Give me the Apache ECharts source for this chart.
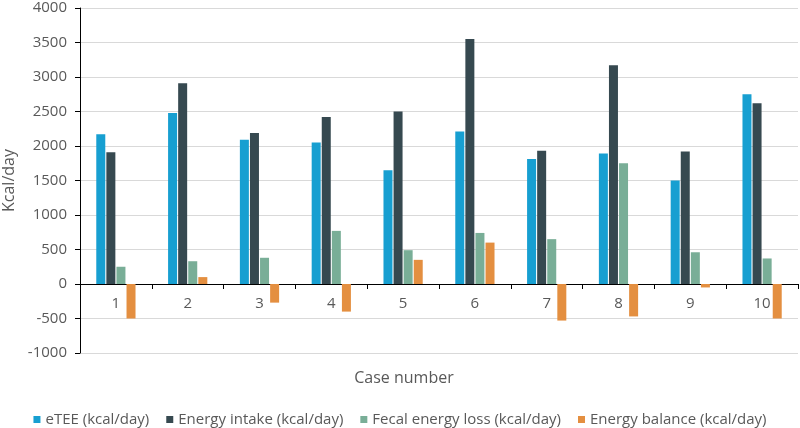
<!DOCTYPE html>
<html>
<head>
    <meta charset="utf-8">
    <title>Energy balance per case</title>
    <script type="text/javascript" src="https://cdn.jsdelivr.net/npm/echarts@6/dist/echarts.min.js"></script>
</head>
<body style="margin:0">
<div id="main" style="width: 800px;height:428px;"></div>
<script type="text/javascript">
    var cases = ['1', '2', '3', '4', '5', '6', '7', '8', '9', '10'];
    var etee = [2170, 2480, 2090, 2050, 1650, 2210, 1810, 1890, 1500, 2750];
    var intake = [1910, 2910, 2190, 2420, 2500, 3550, 1930, 3170, 1920, 2620];
    var fecal = [250, 330, 380, 770, 490, 740, 650, 1750, 460, 370];
    var balance = [-500, 100, -270, -400, 350, 600, -530, -470, -50, -500];

    var font = 'Open Sans';
    var grey = '#595959';

    function bar(name, data, color) {
        return {
            type: 'bar',
            name: name,
            data: data,
            barWidth: 9,
            barGap: '12%',
            itemStyle: {color: color}
        };
    }

    var myChart = echarts.init(document.getElementById('main'));
    var option = {
        animation: false,
        grid: {left: 80, right: 2, top: 8, bottom: 75, containLabel: false, outerBoundsMode: 'none'},
        legend: {
            top: 407,
            left: 'center',
            itemWidth: 7,
            itemHeight: 7,
            itemGap: 17,
            icon: 'rect',
            textStyle: {fontFamily: font, fontSize: 15, color: grey}
        },
        xAxis: {
            type: 'category',
            data: cases,
            // the zero line sits 1000 units (69px) above the bottom of the plot
            offset: -69,
            name: 'Case number',
            nameLocation: 'middle',
            nameGap: 86,
            nameTextStyle: {fontFamily: font, fontSize: 16, color: grey, padding: [0, 70, 0, 0]},
            axisLine: {onZero: false, lineStyle: {color: '#000', width: 1}},
            axisTick: {show: true, length: 5, interval: 0, lineStyle: {color: '#000'}},
            axisLabel: {fontFamily: font, fontSize: 15, color: grey, margin: 12}
        },
        yAxis: {
            type: 'value',
            min: -1000,
            max: 4000,
            interval: 500,
            name: 'Kcal/day',
            nameLocation: 'middle',
            nameGap: 60,
            nameTextStyle: {fontFamily: font, fontSize: 16, color: grey},
            axisLine: {show: true, lineStyle: {color: '#000', width: 1}},
            axisTick: {show: true, length: 5, lineStyle: {color: '#000'}},
            axisLabel: {
                fontFamily: font, fontSize: 15, color: grey, margin: 13,
                formatter: function (v) { return String(v); }
            },
            splitLine: {lineStyle: {color: '#d9d9d9', width: 1}}
        },
        series: [
            bar('eTEE (kcal/day)', etee, '#179fd1'),
            bar('Energy intake (kcal/day)', intake, '#364950'),
            bar('Fecal energy loss (kcal/day)', fecal, '#79ae97'),
            bar('Energy balance (kcal/day)', balance, '#e48f40')
        ]
    };
    myChart.setOption(option);
</script>
</body>
</html>
